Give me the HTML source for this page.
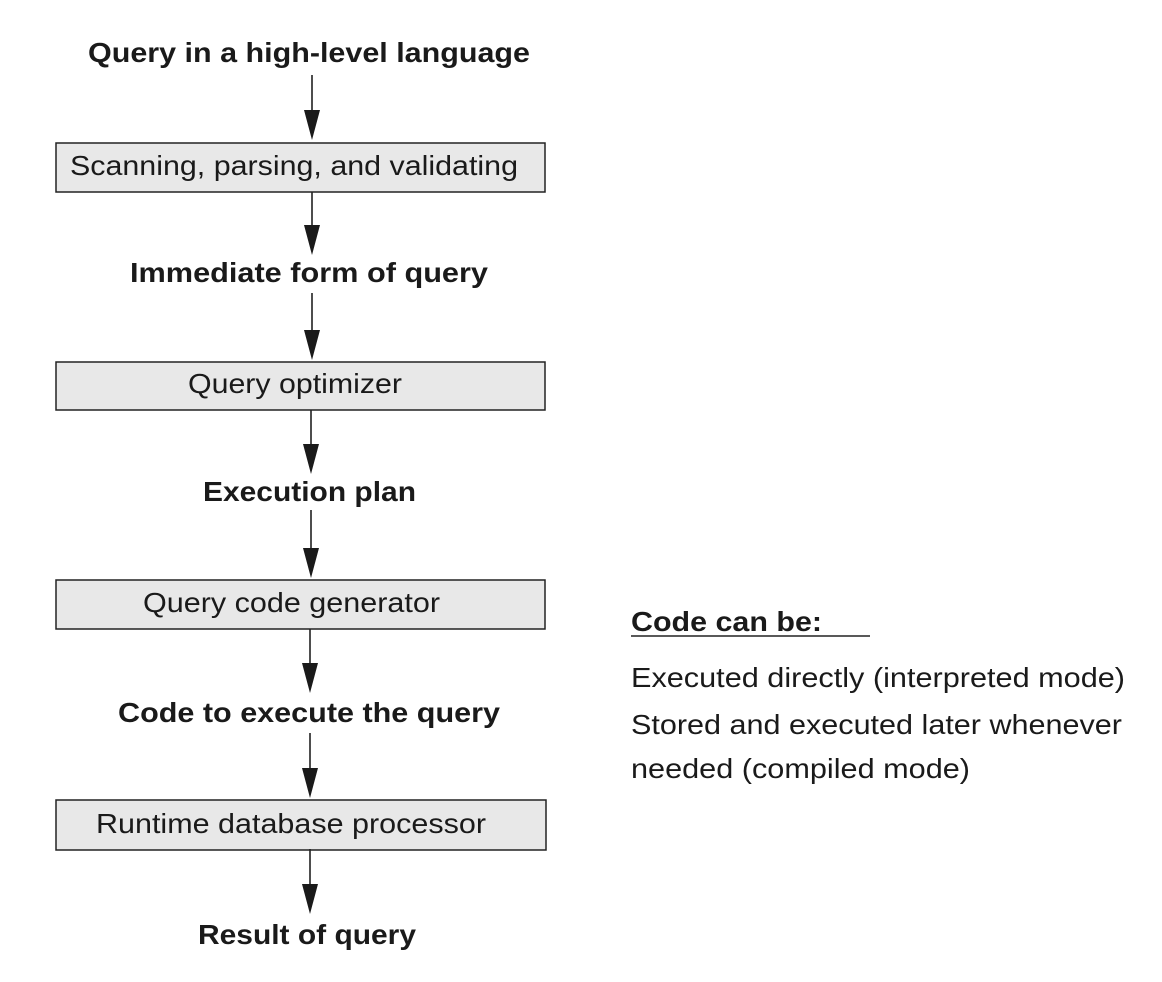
<!DOCTYPE html>
<html><head><meta charset="utf-8"><style>html,body{margin:0;padding:0;background:#fff}svg{display:block}</style></head>
<body>
<svg width="1162" height="982" viewBox="0 0 1162 982" xmlns="http://www.w3.org/2000/svg" font-family="Liberation Sans, Arial, sans-serif" fill="#1a1a1a">
<g fill="#e8e8e8" stroke="#222" stroke-width="1.5">
<rect x="56" y="143" width="489" height="49"/>
<rect x="56" y="362" width="489" height="48"/>
<rect x="56" y="580" width="489" height="49"/>
<rect x="56" y="800" width="490" height="50"/>
</g>
<g stroke="#222" stroke-width="1.6">
<line x1="312" y1="75" x2="312" y2="115"/>
<line x1="312" y1="192" x2="312" y2="230"/>
<line x1="312" y1="293" x2="312" y2="335"/>
<line x1="311" y1="410" x2="311" y2="450"/>
<line x1="311" y1="510" x2="311" y2="553"/>
<line x1="310" y1="629" x2="310" y2="668"/>
<line x1="310" y1="733" x2="310" y2="773"/>
<line x1="310" y1="849" x2="310" y2="889"/>
</g>
<g fill="#1a1a1a">
<polygon points="304,110 320,110 312,140"/>
<polygon points="304,225 320,225 312,255"/>
<polygon points="304,330 320,330 312,360"/>
<polygon points="303,444 319,444 311,474"/>
<polygon points="303,548 319,548 311,578"/>
<polygon points="302,663 318,663 310,693"/>
<polygon points="302,768 318,768 310,798"/>
<polygon points="302,884 318,884 310,914"/>
</g>
<g font-weight="bold" font-size="28">
<text x="88" y="62" textLength="442" lengthAdjust="spacingAndGlyphs">Query in a high-level language</text>
<text x="130" y="282" textLength="358" lengthAdjust="spacingAndGlyphs">Immediate form of query</text>
<text x="203" y="501" textLength="213" lengthAdjust="spacingAndGlyphs">Execution plan</text>
<text x="118" y="722" textLength="382" lengthAdjust="spacingAndGlyphs">Code to execute the query</text>
<text x="198" y="944" textLength="218" lengthAdjust="spacingAndGlyphs">Result of query</text>
<text x="631" y="631" textLength="191" lengthAdjust="spacingAndGlyphs">Code can be:</text>
</g>
<line x1="631" y1="636" x2="870" y2="636" stroke="#222" stroke-width="1.5"/>
<g font-size="28">
<text x="70" y="175" textLength="448" lengthAdjust="spacingAndGlyphs">Scanning, parsing, and validating</text>
<text x="188" y="393" textLength="214" lengthAdjust="spacingAndGlyphs">Query optimizer</text>
<text x="143" y="612" textLength="297" lengthAdjust="spacingAndGlyphs">Query code generator</text>
<text x="96" y="833" textLength="390" lengthAdjust="spacingAndGlyphs">Runtime database processor</text>
<text x="631" y="687" textLength="494" lengthAdjust="spacingAndGlyphs">Executed directly (interpreted mode)</text>
<text x="631" y="734" textLength="491" lengthAdjust="spacingAndGlyphs">Stored and executed later whenever</text>
<text x="631" y="778" textLength="339" lengthAdjust="spacingAndGlyphs">needed (compiled mode)</text>
</g>
</svg>
</body></html>
